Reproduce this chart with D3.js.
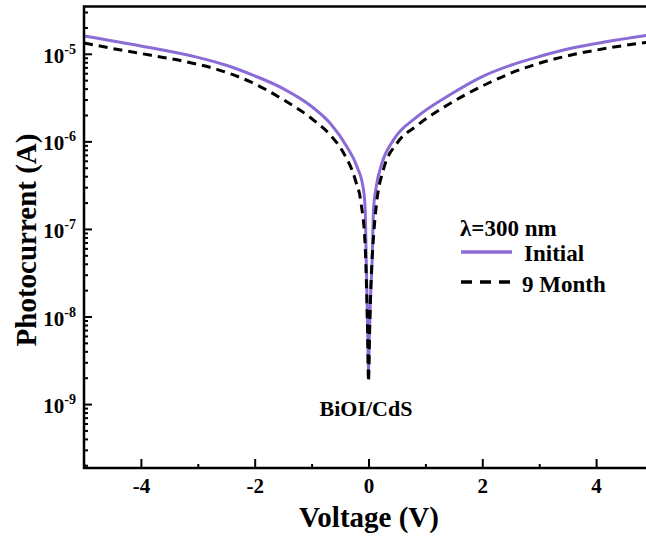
<!DOCTYPE html>
<html>
<head>
<meta charset="utf-8">
<script src="https://cdn.jsdelivr.net/npm/d3@7"></script>
</head>
<body style="margin:0;background:#fff">
<svg id="chart"></svg>
<script>
// data (voltage in V, photocurrent in A)
var initialV = [-5, -4, -3, -2.5, -2, -1.5, -1, -0.67, -0.38, -0.2, -0.088, -0.058, -0.04, -0.025, -0.01, 0,
                0.015, 0.035, 0.065, 0.088, 0.135, 0.235, 0.44, 0.85, 1.43, 2, 2.5, 3, 3.6, 4.2, 5];
var initialI = [1.6e-5, 1.23e-5, 9.1e-6, 7.4e-6, 5.6e-6, 4.0e-6, 2.5e-6, 1.6e-6, 8.7e-7, 5.1e-7, 2.8e-7, 1.66e-7, 4.5e-8, 1.5e-8, 5e-9, 2.4e-9,
                6e-9, 1.6e-8, 4.5e-8, 1.66e-7, 3e-7, 5.6e-7, 1.04e-6, 1.9e-6, 3.4e-6, 5.5e-6, 7.4e-6, 9.3e-6, 1.17e-5, 1.38e-5, 1.66e-5];

var monthV = [-5, -4.5, -3.82, -3.2, -2.65, -2.08, -1.5, -0.96, -0.67, -0.44, -0.23, -0.13, -0.058, -0.035, -0.015, 0,
              0.02, 0.05, 0.088, 0.147, 0.26, 0.5, 0.85, 1.3, 1.7, 2.13, 2.5, 3, 3.6, 4.2, 5];
var monthI = [1.33e-5, 1.15e-5, 9.6e-6, 8.1e-6, 6.6e-6, 4.8e-6, 3.0e-6, 1.74e-6, 1.18e-6, 7.4e-7, 3.6e-7, 1.95e-7, 6.3e-8, 2.2e-8, 6e-9, 1.8e-9,
              7e-9, 3e-8, 8.1e-8, 2.1e-7, 4.7e-7, 9.5e-7, 1.51e-6, 2.4e-6, 3.4e-6, 4.7e-6, 6.0e-6, 7.8e-6, 9.8e-6, 1.16e-5, 1.38e-5];

var xTicks = [-4, -2, 0, 2, 4];
var xMinor = [-5, -3, -1, 1, 3, 5];
var yExponents = [-9, -8, -7, -6, -5];

var width = 646, height = 541;
var margin = {left: 84, top: 6.5, right: 653, bottom: 468};
var fontName = "Liberation Serif";

var svg = d3.select("#chart").attr("width", width).attr("height", height);

var x = d3.scaleLinear().domain([-5, 5]).range([margin.left, margin.right]);
var y = d3.scaleLog().domain([Math.pow(10, -9.73), Math.pow(10, -4.46)]).range([margin.bottom, margin.top]);

svg.append("clipPath").attr("id", "clip")
    .append("rect")
    .attr("x", margin.left).attr("y", margin.top)
    .attr("width", margin.right - margin.left).attr("height", margin.bottom - margin.top);

// minor y ticks
var yMinor = [];
for (var e = -10; e <= -5; e++) {
    for (var k = 2; k <= 9; k++) {
        var v = k * Math.pow(10, e);
        if (v > y.domain()[0] && v < y.domain()[1]) yMinor.push(v);
    }
}

var lineGen = d3.line()
    .x(function (d) { return x(d[0]); })
    .y(function (d) { return y(d[1]); })
    .curve(d3.curveMonotoneX);

var curves = svg.append("g").attr("clip-path", "url(#clip)");

curves.append("path")
    .datum(initialV.map(function (v, i) { return [v, initialI[i]]; }))
    .attr("d", lineGen)
    .attr("fill", "none")
    .attr("stroke", "#8b6cd7")
    .attr("stroke-width", 3);

curves.append("path")
    .datum(monthV.map(function (v, i) { return [v, monthI[i]]; }))
    .attr("d", lineGen)
    .attr("fill", "none")
    .attr("stroke", "#000")
    .attr("stroke-width", 3)
    .attr("stroke-dasharray", "9,6");

// axes, ticks pointing inward
function styleAxis(g) {
    g.select(".domain").remove();
    g.selectAll(".tick line").attr("stroke", "#000").attr("stroke-width", 2);
    g.selectAll(".tick text").attr("fill", "#000").style("font-family", fontName)
        .style("font-weight", "bold").style("font-size", "21px");
}

svg.append("g").attr("transform", "translate(0," + margin.bottom + ")")
    .call(d3.axisBottom(x).tickValues(xMinor).tickSize(-4).tickFormat(function () { return ""; }))
    .call(styleAxis);
svg.append("g").attr("transform", "translate(0," + margin.bottom + ")")
    .call(d3.axisBottom(x).tickValues(xTicks).tickSize(-9).tickPadding(10)
        .tickFormat(function (d) { return d < 0 ? "-" + Math.abs(d) : d; }))
    .call(styleAxis);

svg.append("g").attr("transform", "translate(" + margin.left + ",0)")
    .call(d3.axisLeft(y).tickValues(yMinor).tickSize(-4).tickFormat(function () { return ""; }))
    .call(styleAxis);
svg.append("g").attr("transform", "translate(" + margin.left + ",0)")
    .call(d3.axisLeft(y).tickValues(yExponents.map(function (e) { return Math.pow(10, e); }))
        .tickSize(-8).tickFormat(function () { return ""; }))
    .call(styleAxis);

function label(sel, size) {
    return sel.style("font-family", fontName).style("font-weight", "bold")
        .style("font-size", size + "px").attr("fill", "#000");
}

// y tick labels with superscripts
var yl = svg.append("g").selectAll("text")
    .data(yExponents)
    .enter()
    .append("text")
    .attr("x", margin.left - 8)
    .attr("y", function (d) { return y(Math.pow(10, d)) + 9; })
    .attr("text-anchor", "end")
    .call(label, 21);
yl.append("tspan").text("10");
yl.append("tspan").attr("dy", -9).style("font-size", "14px").text(function (d) { return d; });

// frame
svg.append("rect")
    .attr("x", margin.left).attr("y", margin.top)
    .attr("width", margin.right - margin.left).attr("height", margin.bottom - margin.top)
    .attr("fill", "none").attr("stroke", "#000").attr("stroke-width", 2.5);

// axis titles
svg.append("text")
    .attr("x", 369)
    .attr("y", 527)
    .attr("text-anchor", "middle")
    .call(label, 29)
    .text("Voltage (V)");

svg.append("text")
    .attr("transform", "translate(36,240)rotate(-90)")
    .attr("text-anchor", "middle")
    .call(label, 29)
    .text("Photocurrent (A)");

// annotation
svg.append("text")
    .attr("x", 366).attr("y", 416)
    .attr("text-anchor", "middle")
    .call(label, 22)
    .text("BiOI/CdS");

// legend
var lg = svg.append("g");
lg.append("text").attr("x", 460).attr("y", 236).call(label, 23).text("λ=300 nm");
lg.append("line").attr("x1", 461).attr("x2", 512).attr("y1", 252).attr("y2", 252)
    .attr("stroke", "#8b6cd7").attr("stroke-width", 3.5);
lg.append("text").attr("x", 524).attr("y", 261).call(label, 23).text("Initial");
lg.append("line").attr("x1", 461).attr("x2", 512).attr("y1", 282).attr("y2", 282)
    .attr("stroke", "#000").attr("stroke-width", 3.5).attr("stroke-dasharray", "11,8");
lg.append("text").attr("x", 522).attr("y", 292).call(label, 23).text("9 Month");
</script>
</body>
</html>
